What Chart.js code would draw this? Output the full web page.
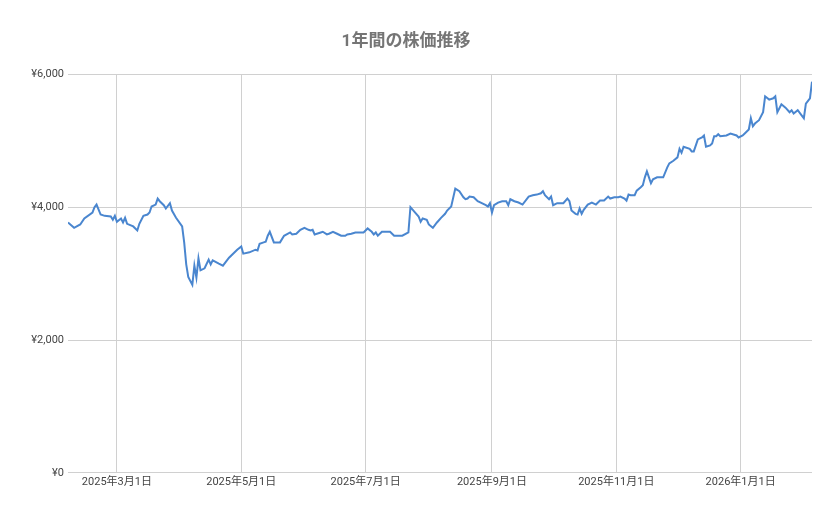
<!DOCTYPE html>
<html><head><meta charset="utf-8">
<script src="https://cdn.jsdelivr.net/npm/chart.js@4"></script>
<style>html,body{margin:0;padding:0;background:#fff}#w{width:839px;height:519px}</style>
</head><body><div id="w"><canvas id="c"></canvas></div>
<script>
const dayOffsets=[0,3,6,8,12,13,14,16,18,21,22,23,24,26,27,28,29,32,34,35,37,39,40,41,43,44,45,47,48,50,51,53,56,57,58,59,61,62,63,64,65,67,69,70,71,74,76,79,81,83,85,86,89,92,93,94,96,97,98,99,101,103,104,106,109,110,112,114,116,118,119,120,121,124,125,127,128,130,132,134,136,137,139,141,143,145,147,149,150,151,152,154,156,158,160,162,164,167,168,170,172,173,174,176,177,179,181,183,185,186,188,190,192,194,195,196,197,199,201,203,205,206,207,208,209,211,213,215,216,217,219,221,223,226,228,230,232,233,234,236,237,238,240,242,243,245,246,247,249,250,251,252,253,255,257,259,261,263,265,266,268,270,271,273,274,275,276,278,279,281,282,283,284,286,287,289,292,294,295,297,299,300,301,302,305,306,307,309,311,312,313,315,316,317,318,319,320,323,325,328,329,331,332,334,335,336,337,339,341,342,344,346,347,348,350,352,354,355,356,358,360,361,362,364,365];
const prices=[3770,3690,3740,3830,3920,4000,4040,3890,3870,3860,3810,3870,3780,3830,3770,3840,3750,3710,3650,3750,3870,3890,3920,4010,4040,4130,4090,4030,3980,4060,3950,3840,3710,3470,3140,2950,2830,3120,2940,3230,3050,3080,3210,3140,3200,3150,3120,3240,3300,3360,3410,3300,3320,3360,3350,3450,3470,3480,3570,3630,3470,3470,3470,3570,3620,3590,3600,3660,3690,3660,3650,3660,3590,3620,3630,3590,3600,3630,3600,3570,3570,3590,3600,3620,3620,3620,3680,3630,3590,3620,3570,3630,3630,3630,3570,3570,3570,3620,4000,3930,3860,3780,3830,3810,3740,3690,3770,3840,3900,3950,4010,4280,4240,4150,4120,4130,4160,4150,4090,4060,4030,4010,4060,3920,4030,4070,4090,4090,4030,4120,4090,4070,4040,4160,4180,4190,4210,4240,4180,4120,4160,4030,4060,4060,4060,4130,4090,3950,3900,3890,3980,3900,3960,4040,4070,4040,4100,4100,4160,4130,4150,4150,4160,4130,4100,4190,4180,4180,4250,4300,4330,4450,4540,4360,4420,4450,4450,4600,4660,4700,4750,4880,4820,4910,4880,4840,4840,5020,5050,5080,4910,4930,4960,5070,5070,5100,5070,5080,5110,5080,5050,5080,5110,5170,5340,5220,5260,5310,5430,5670,5620,5640,5670,5430,5550,5500,5430,5460,5410,5460,5380,5340,5560,5640,5890];
const tickDays=[24,85,146,208,269,330];
const tickLabels=['2025年3月1日','2025年5月1日','2025年7月1日','2025年9月1日','2025年11月1日','2026年1月1日'];
const yTicks=[0,2000,4000,6000];
const yTickLabels=['¥0','¥2,000','¥4,000','¥6,000'];
const titleText='1年間の株価推移';
const pts=dayOffsets.map((d,i)=>({x:d,y:prices[i]}));
Chart.defaults.font.family='Roboto, "Noto Sans CJK JP", sans-serif';
new Chart(document.getElementById('c'),{
 type:'line',
 data:{datasets:[{data:pts,borderColor:'#4a86cf',borderWidth:2,pointRadius:0,tension:0,fill:false}]},
 options:{responsive:true,maintainAspectRatio:false,animation:false,
  layout:{padding:{left:0,right:27,top:8,bottom:27}},
  plugins:{legend:{display:false},tooltip:{enabled:false},
   title:{display:true,text:titleText,color:'#757575',font:{size:17,weight:'bold'},padding:{top:24,bottom:22}}},
  scales:{
   x:{type:'linear',min:0,max:365,
    afterBuildTicks:a=>{a.ticks=tickDays.map(v=>({value:v}));},
    ticks:{autoSkip:false,maxRotation:0,color:'#444',font:{size:11},callback:(v)=>{const i=tickDays.indexOf(v);return i>=0?tickLabels[i]:'';}},
    grid:{color:'#d0d0d0',drawTicks:false},border:{display:false}},
   y:{min:0,max:6000,
    afterBuildTicks:a=>{a.ticks=yTicks.map(v=>({value:v}));},
    afterFit:a=>{a.width=68;},
    ticks:{color:'#444',font:{size:11},padding:4,callback:(v)=>{const i=yTicks.indexOf(v);return i>=0?yTickLabels[i]:'';}},
    grid:{color:'#d0d0d0',drawTicks:false},border:{display:false}}
  }}
});
</script></body></html>
